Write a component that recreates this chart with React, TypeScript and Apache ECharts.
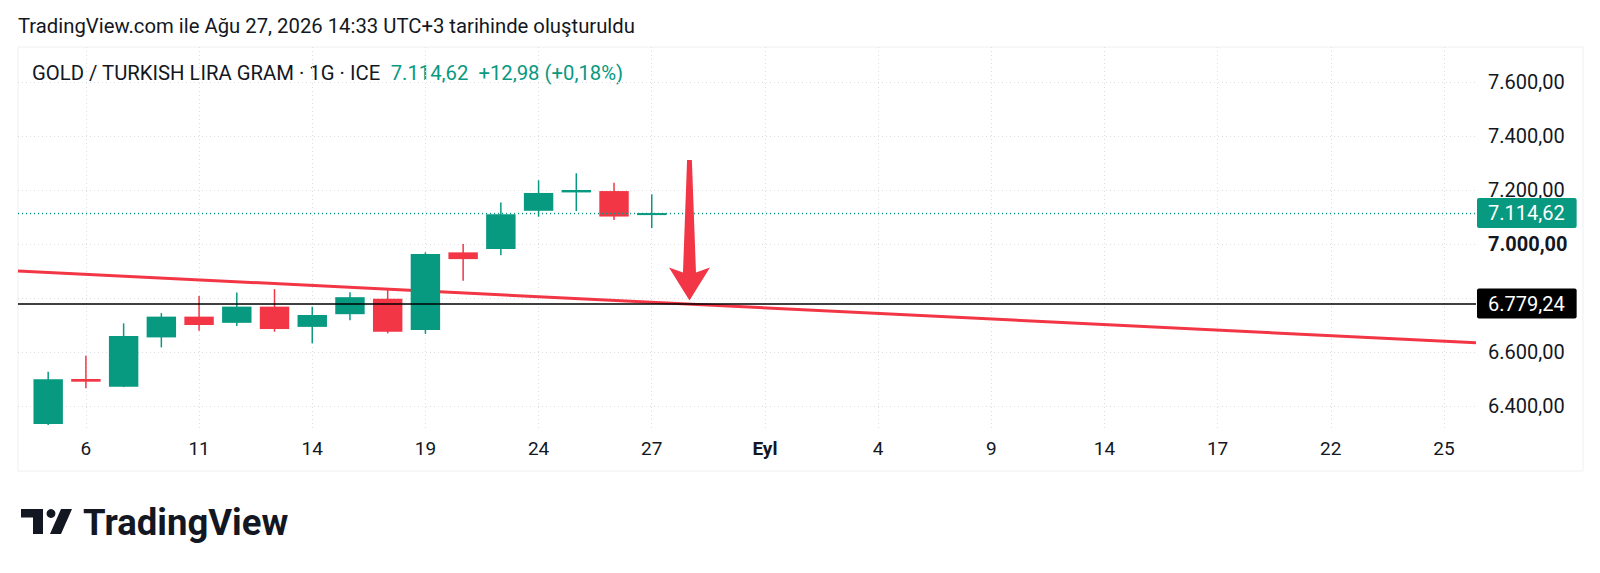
import React, { useEffect, useRef } from 'react';
import * as echarts from 'echarts';

// ---- data ----
const DATES = [
  '2026-08-05', '2026-08-06', '2026-08-07', '2026-08-10', '2026-08-11', '2026-08-12',
  '2026-08-13', '2026-08-14', '2026-08-17', '2026-08-18', '2026-08-19', '2026-08-20',
  '2026-08-21', '2026-08-24', '2026-08-25', '2026-08-26', '2026-08-27',
];
const OPEN = [6333, 6500, 6471, 6654, 6731, 6708, 6768, 6693, 6740, 6797, 6681, 6969, 6981, 7123, 7191, 7196, 7107];
const CLOSE = [6499, 6490, 6659, 6731, 6700, 6768, 6685, 6737, 6803, 6675, 6963, 6944, 7110, 7189, 7200, 7101.64, 7114.62];
const HIGH = [6527, 6586, 6706, 6744, 6807, 6820, 6833, 6768, 6821, 6830, 6969, 7000, 7154, 7236, 7262, 7227, 7184];
const LOW = [6330, 6466, 6470, 6617, 6679, 6696, 6675, 6632, 6718, 6669, 6667, 6864, 6958, 7101, 7122, 7089, 7059];

const X_TICK_INDEX = [1, 4, 7, 10, 13, 16, 19, 22, 25, 28, 31, 34, 37];
const X_TICK_LABELS = ['6', '11', '14', '19', '24', '27', 'Eyl', '4', '9', '14', '17', '22', '25'];
const Y_TICKS = [6400, 6600, 6800, 7000, 7200, 7400, 7600];
// 6.800,00 is hidden behind the support-level price label in the reference
const Y_LABELS = [6400, 6600, 7000, 7200, 7400, 7600];
const X_RANGE = [-0.8, 37.85];
const Y_RANGE = [6318.5, 7729.6];

const TREND_X = [-0.8, 37.85];
const TREND_Y = [6900, 6634];
const SUPPORT_LEVEL = 6779.24;
const ARROW_X = [17];
const ARROW_TIP = [6791];
const ARROW_TAIL = [7311];

const TITLE = 'GOLD / TURKISH LIRA GRAM · 1G · ICE';
const CREATED = 'TradingView.com ile Ağu 27, 2026 14:33 UTC+3 tarihinde oluşturuldu';

const GREEN = '#089981';
const RED = '#f23645';
const TEXT = '#131722';
const FONT = 'Roboto';

function fmtTR(v: number): string {
  const [i, d] = Math.abs(v).toFixed(2).split('.');
  const s = i.replace(/\B(?=(\d{3})+(?!\d))/g, '.');
  return (v < 0 ? '-' : '') + s + ',' + d;
}

export default function App() {
  const ref = useRef<HTMLDivElement>(null);

  useEffect(() => {
    if (!ref.current) return;
    const chart = echarts.init(ref.current, undefined, { renderer: 'svg' });

    const last = CLOSE[CLOSE.length - 1];
    const prev = CLOSE[CLOSE.length - 2];
    const chg = last - prev;
    const pct = (chg / prev) * 100;
    const chgText = `${chg >= 0 ? '+' : ''}${fmtTR(chg)} (${pct >= 0 ? '+' : ''}${fmtTR(pct)}%)`;

    const candleData = DATES.map((_, i) => [i, OPEN[i], CLOSE[i], LOW[i], HIGH[i]]);
    const arrowData = ARROW_X.map((x, i) => [x, ARROW_TIP[i], ARROW_TAIL[i]]);

    const priceLabel = (text: string, bg: string) => ({
      show: true, position: 'end', distance: 1, formatter: text,
      color: '#ffffff', backgroundColor: bg, padding: [5, 12, 4, 11],
      fontSize: 20, fontFamily: FONT, lineHeight: 21, borderRadius: 2,
    });

    const option: any = {
      animation: false,
      backgroundColor: '#ffffff',
      grid: { left: 18, top: 47, width: 1458, height: 381, containLabel: false },
      xAxis: {
        type: 'value',
        min: X_RANGE[0],
        max: X_RANGE[1],
        axisLine: { show: false },
        axisTick: { show: false, customValues: X_TICK_INDEX },
        axisLabel: {
          customValues: X_TICK_INDEX,
          margin: 11,
          color: TEXT,
          fontSize: 19,
          fontFamily: FONT,
          formatter: (v: number) => {
            const k = X_TICK_INDEX.indexOf(Math.round(v));
            const s = k >= 0 ? X_TICK_LABELS[k] : '';
            return s === 'Eyl' ? '{b|Eyl}' : s;
          },
          rich: { b: { fontWeight: 'bold', fontSize: 19, fontFamily: FONT, color: TEXT } },
        },
        splitLine: { show: true, lineStyle: { color: '#dcdee3', type: [1, 3], width: 1 } },
      },
      yAxis: {
        type: 'value',
        position: 'right',
        min: Y_RANGE[0],
        max: Y_RANGE[1],
        axisLine: { show: false },
        axisTick: { show: false, customValues: Y_TICKS },
        axisLabel: {
          customValues: Y_LABELS,
          margin: 12,
          color: TEXT,
          fontSize: 20,
          fontFamily: FONT,
          formatter: (v: number) => (Math.abs(v - 7000) < 0.01 ? `{b|${fmtTR(v)}}` : fmtTR(v)),
          rich: { b: { fontWeight: 'bold', fontSize: 20, fontFamily: FONT, color: TEXT } },
        },
        splitLine: { show: true, lineStyle: { color: '#dcdee3', type: [1, 3], width: 1 } },
      },
      series: [
        {
          type: 'line',
          data: TREND_X.map((x, i) => [x, TREND_Y[i]]),
          symbol: 'none',
          lineStyle: { color: RED, width: 3 },
          z: 3,
          silent: true,
        },
        {
          type: 'custom',
          data: candleData,
          encode: { x: 0, y: [1, 2, 3, 4] },
          z: 4,
          silent: true,
          renderItem: (_params: any, api: any) => {
            const x = api.value(0);
            const o = api.value(1);
            const c = api.value(2);
            const l = api.value(3);
            const h = api.value(4);
            const pO = api.coord([x, o]);
            const pC = api.coord([x, c]);
            const pL = api.coord([x, l]);
            const pH = api.coord([x, h]);
            const w = api.size([1, 0])[0] * 0.78;
            const color = c >= o ? GREEN : RED;
            const top = Math.min(pO[1], pC[1]);
            const bh = Math.max(Math.abs(pO[1] - pC[1]), 2);
            return {
              type: 'group',
              children: [
                { type: 'line', shape: { x1: pH[0], y1: pH[1], x2: pL[0], y2: pL[1] }, style: { stroke: color, lineWidth: 1.5 } },
                { type: 'rect', shape: { x: pO[0] - w / 2, y: top, width: w, height: bh }, style: { fill: color } },
              ],
            };
          },
          markLine: {
            silent: true,
            symbol: 'none',
            animation: false,
            data: [
              {
                yAxis: SUPPORT_LEVEL,
                lineStyle: { color: '#000000', type: 'solid', width: 1.5 },
                label: priceLabel(fmtTR(SUPPORT_LEVEL), '#000000'),
              },
              {
                yAxis: last,
                lineStyle: { color: GREEN, type: [1, 3], width: 1.3 },
                label: priceLabel(fmtTR(last), GREEN),
              },
            ],
          },
        },
        {
          type: 'custom',
          data: arrowData,
          encode: { x: 0, y: [1, 2] },
          z: 5,
          silent: true,
          renderItem: (_params: any, api: any) => {
            const tip = api.coord([api.value(0), api.value(1)]);
            const tail = api.coord([api.value(0), api.value(2)]);
            const tx = tip[0];
            const ty = tip[1];
            return {
              type: 'polygon',
              shape: {
                points: [
                  [tx - 2.4, tail[1]],
                  [tx + 2.4, tail[1]],
                  [tx + 6.5, ty - 28],
                  [tx + 20.5, ty - 33],
                  [tx, ty],
                  [tx - 20.5, ty - 33],
                  [tx - 6.5, ty - 28],
                ],
              },
              style: { fill: RED },
            };
          },
        },
      ],
      graphic: [
        {
          type: 'rect', z: -1, silent: true,
          shape: { x: 18, y: 47, width: 1565, height: 424 },
          style: { fill: 'none', stroke: '#eef0f3', lineWidth: 1 },
        },
        {
          type: 'text', x: 18, y: 26, silent: true,
          style: { text: CREATED, fill: TEXT, fontSize: 20.3, fontFamily: FONT, verticalAlign: 'middle' },
        },
        {
          type: 'text', x: 32, y: 73, silent: true,
          style: {
            text: `{a|${TITLE}}  {g|${fmtTR(last)}}  {g|${chgText}}`,
            verticalAlign: 'middle',
            fontSize: 20.3, fontFamily: FONT,
            rich: {
              a: { fill: TEXT, fontSize: 20.3, fontFamily: FONT },
              g: { fill: GREEN, fontSize: 20.3, fontFamily: FONT },
            },
          },
        },
        {
          type: 'group', x: 21, y: 509, silent: true,
          children: [
            { type: 'polygon', shape: { points: [[0, 0], [22, 0], [22, 25], [12, 25], [12, 8.5], [0, 8.5]] }, style: { fill: TEXT } },
            { type: 'circle', shape: { cx: 30, cy: 4.5, r: 4.4 }, style: { fill: TEXT } },
            { type: 'polygon', shape: { points: [[29, 25], [40, 0], [51, 0], [40, 25]] }, style: { fill: TEXT } },
          ],
        },
        {
          type: 'text', x: 83, y: 522, silent: true,
          style: { text: 'TradingView', fill: TEXT, fontSize: 36.5, fontWeight: 'bold', fontFamily: FONT, verticalAlign: 'middle' },
        },
      ],
    };

    chart.setOption(option);
    return () => chart.dispose();
  }, []);

  return (
    <div
      ref={ref}
      style={{ position: 'fixed', left: 0, top: 0, width: 1600, height: 573, background: '#ffffff' }}
    />
  );
}
